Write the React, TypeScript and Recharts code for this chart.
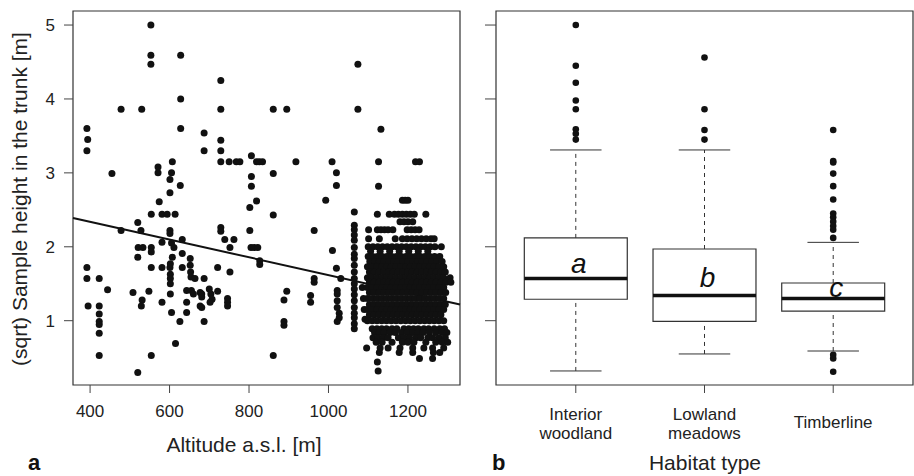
import { ReferenceArea, ReferenceLine, Scatter, ScatterChart, XAxis, YAxis } from "recharts";

const FONT = '"Liberation Sans", Arial, Helvetica, sans-serif';

// panel a: altitude [m] vs sqrt sample height [m], scattered samples
const spreadSamples: [number, number][] = [
  [392, 3.6], [394, 3.45], [392, 3.3], [392, 1.72], [392, 1.57], [395, 1.2],
  [423, 1.57], [423, 1.2], [423, 1.09], [423, 0.99], [423, 0.95], [423, 0.83], [423, 0.53],
  [444, 1.42], [455, 2.99], [478, 3.86], [478, 2.22],
  [508, 1.38], [520, 2.33], [528, 2.22], [521, 1.99], [533, 1.99], [520, 1.86], [520, 0.3],
  [530, 3.86], [531, 1.28], [529, 1.2], [548, 1.4],
  [553, 5.0], [553, 4.59], [553, 4.47], [554, 2.44], [554, 1.99], [554, 1.93], [554, 1.72], [554, 0.53],
  [571, 3.08], [571, 3.0], [574, 2.61], [581, 2.44], [594, 2.44], [581, 2.06], [581, 1.72], [581, 1.25],
  [601, 2.91], [605, 3.0], [601, 2.73], [607, 3.15], [614, 2.44], [601, 2.22], [601, 2.18], [605, 2.05],
  [611, 1.99], [607, 1.86], [601, 1.72], [602, 1.77], [602, 1.63], [602, 1.57], [602, 1.5], [602, 1.36],
  [605, 1.11], [615, 0.69],
  [627, 2.83], [628, 4.59], [628, 4.0], [628, 3.6], [632, 2.1], [632, 1.91], [632, 1.72], [626, 0.99],
  [652, 1.84], [652, 1.75], [653, 1.66], [654, 1.59], [664, 1.57], [643, 1.41], [643, 1.25], [643, 1.11],
  [655, 1.41], [660, 1.36], [677, 1.38], [677, 1.2],
  [687, 3.54], [687, 3.3], [687, 1.57], [687, 0.99], [681, 1.36], [681, 1.32], [681, 1.18],
  [700, 1.43], [704, 1.36], [707, 1.29], [702, 1.25], [721, 1.72], [721, 1.4],
  [729, 4.25], [729, 3.86], [729, 3.44], [729, 3.3], [729, 3.15], [729, 2.26], [729, 2.21],
  [739, 2.1], [762, 2.1], [752, 1.99], [752, 1.66], [746, 1.3], [746, 1.25], [746, 1.2],
  [750, 3.15], [768, 3.15], [777, 3.15],
  [806, 3.23], [806, 2.95], [806, 2.82], [819, 2.62], [802, 2.53], [802, 2.22], [805, 1.99], [813, 1.99],
  [822, 1.99], [827, 1.81], [827, 1.76], [819, 3.15], [826, 3.15], [834, 3.15],
  [861, 3.86], [861, 2.99], [861, 2.43], [861, 0.53],
  [895, 3.86], [895, 1.4], [888, 1.28], [888, 0.99], [888, 0.94],
  [918, 3.15], [955, 1.34], [955, 1.25], [964, 2.22], [964, 1.57], [964, 1.52],
  [993, 2.63], [1009, 3.15], [1010, 1.95],
  [1020, 3.0], [1020, 2.83], [1020, 1.71], [1022, 1.41], [1022, 1.36], [1022, 1.27], [1022, 1.18],
  [1027, 1.1], [1027, 1.04], [1022, 0.99], [1031, 1.57],
  [1074, 4.47], [1074, 3.86], [1132, 3.59], [1126, 3.15], [1219, 3.15], [1229, 3.15], [1126, 2.82],
  [1085, 1.45], [1088, 1.3], [1090, 1.15], [1092, 1.02],
];

// the transect column at ~1065 m
const columnAltitude = 1065;
const columnHeights = [2.47, 2.29, 2.23, 2.16, 2.09, 1.99, 1.9, 1.84, 1.75, 1.66, 1.57, 1.5, 1.43, 1.35, 1.27, 1.18, 1.1, 1.04, 0.96, 0.89];

// dense timberline cluster, one row per height level
const clusterRows: [number, number[]][] = [
  [2.63, [1186, 1193, 1200]],
  [2.44, [1123, 1153, 1166, 1176, 1186, 1196, 1206, 1216, 1245]],
  [2.34, [1180, 1190, 1200, 1212]],
  [2.23, [1101, 1123, 1132, 1141, 1150, 1162, 1198, 1208, 1218, 1228]],
  [2.11, [1101, 1128, 1168, 1186, 1198, 1210, 1222, 1234, 1246, 1258, 1266]],
  [2.0, [1100, 1112, 1124, 1136, 1148, 1160, 1172, 1184, 1196, 1208, 1220, 1232, 1244, 1256, 1268, 1284]],
  [1.94, [1106, 1130, 1154, 1178, 1202, 1226, 1250]],
  [1.87, [1100, 1111, 1123, 1135, 1147, 1159, 1171, 1183, 1195, 1207, 1219, 1231, 1243, 1255, 1267, 1280]],
  [1.8, [1104, 1116, 1128, 1140, 1152, 1164, 1176, 1188, 1200, 1212, 1224, 1236, 1248, 1260, 1272, 1286]],
  [1.73, [1098, 1110, 1122, 1134, 1146, 1158, 1170, 1182, 1194, 1206, 1218, 1230, 1242, 1254, 1266, 1278, 1290]],
  [1.66, [1103, 1115, 1127, 1139, 1151, 1163, 1175, 1187, 1199, 1211, 1223, 1235, 1247, 1259, 1271, 1283, 1294]],
  [1.58, [1098, 1110, 1122, 1134, 1146, 1158, 1170, 1182, 1194, 1206, 1218, 1230, 1242, 1254, 1266, 1278, 1290, 1306]],
  [1.52, [1103, 1115, 1127, 1139, 1151, 1163, 1175, 1187, 1199, 1211, 1223, 1235, 1247, 1259, 1271, 1283, 1296, 1308]],
  [1.45, [1098, 1110, 1122, 1134, 1146, 1158, 1170, 1182, 1194, 1206, 1218, 1230, 1242, 1254, 1266, 1278, 1290]],
  [1.38, [1103, 1115, 1127, 1139, 1151, 1163, 1175, 1187, 1199, 1211, 1223, 1235, 1247, 1259, 1271, 1283, 1295]],
  [1.3, [1098, 1110, 1122, 1134, 1146, 1158, 1170, 1182, 1194, 1206, 1218, 1230, 1242, 1254, 1266, 1278, 1290]],
  [1.22, [1103, 1115, 1127, 1139, 1151, 1163, 1175, 1187, 1199, 1211, 1223, 1235, 1247, 1259, 1271, 1283, 1294]],
  [1.15, [1098, 1110, 1122, 1134, 1146, 1158, 1170, 1182, 1194, 1206, 1218, 1230, 1242, 1254, 1266, 1278, 1290]],
  [1.08, [1103, 1115, 1127, 1139, 1151, 1163, 1175, 1187, 1199, 1211, 1223, 1235, 1247, 1259, 1271, 1283]],
  [1.0, [1098, 1110, 1122, 1134, 1146, 1158, 1170, 1182, 1194, 1206, 1218, 1230, 1242, 1254, 1266, 1278, 1290]],
  [0.89, [1110, 1122, 1134, 1146, 1160, 1172, 1190, 1202, 1214, 1226, 1240, 1252, 1266, 1280, 1292]],
  [0.84, [1116, 1128, 1140, 1155, 1168, 1184, 1198, 1212, 1225, 1238, 1254, 1270, 1286, 1298]],
  [0.77, [1112, 1125, 1138, 1150, 1176, 1190, 1204, 1220, 1232, 1250, 1262, 1278, 1294]],
  [0.71, [1120, 1135, 1160, 1186, 1200, 1215, 1245, 1270, 1286, 1300]],
  [0.63, [1096, 1130, 1150, 1180, 1212, 1240, 1262, 1290]],
  [0.57, [1128, 1178, 1212, 1264, 1280]],
  [0.49, [1229, 1262]],
  [0.44, [1123]],
  [0.32, [1125]],
];

const fitAltitude = [357, 1331];
const fitHeight = [2.39, 1.22];
const altitudeTicks = [400, 600, 800, 1000, 1200];
const heightTicks = [1, 2, 3, 4, 5];

// panel b: habitat boxplots
const habitats = [["Interior", "woodland"], ["Lowland", "meadows"], ["Timberline"]];
const groupLetters = ["a", "b", "c"];
const letterHeights = [1.64, 1.45, 1.32];
const whiskerLow = [0.32, 0.55, 0.59];
const lowerQuartile = [1.29, 0.99, 1.13];
const medianHeight = [1.57, 1.34, 1.3];
const upperQuartile = [2.12, 1.97, 1.51];
const whiskerHigh = [3.31, 3.31, 2.06];
const outliers = [
  [5.0, 4.45, 4.22, 3.98, 3.86, 3.59, 3.53, 3.45],
  [4.56, 3.86, 3.58, 3.45],
  [3.58, 3.16, 3.14, 2.99, 2.82, 2.64, 2.45, 2.4, 2.34, 2.28, 2.23, 2.12, 0.54, 0.49, 0.31],
];

const scatterPoints = [
  ...spreadSamples.map(([altitude, height]) => ({ altitude, height })),
  ...columnHeights.map((height) => ({ altitude: columnAltitude, height })),
  ...clusterRows.flatMap(([height, alts]) => alts.map((altitude) => ({ altitude, height }))),
];
const outlierPoints = outliers.flatMap((values, i) => values.map((height) => ({ position: i + 1, height })));
const letterPoints = groupLetters.map((letter, i) => ({ position: i + 1, height: letterHeights[i], letter }));

const yDomain: [number, number] = [0.13, 5.19];
const xDomain: [number, number] = [357, 1331];
const boxDomain: [number, number] = [0.38, 3.62];

const tickStyle = { fill: "#222", fontSize: 17, fontFamily: FONT };

const HabitatTick = (props: any) => {
  const lines = habitats[Math.round(props.payload.value) - 1] ?? [];
  const offsets = lines.length === 1 ? [35] : [27, 46];
  return (
    <text x={props.x} y={props.y} textAnchor="middle" fill="#222" fontSize={17} fontFamily={FONT}>
      {lines.map((line, i) => (
        <tspan key={line} x={props.x} y={props.y + offsets[i]}>{line}</tspan>
      ))}
    </text>
  );
};

export default function App() {
  return (
    <div style={{ position: "absolute", left: 0, top: 0, width: 914, height: 476, background: "#fff", fontFamily: FONT }}>
      <div style={{ position: "absolute", left: 0, top: 0 }}>
        <ScatterChart width={462} height={476} margin={{ top: 11, right: 2, bottom: 0, left: 0 }}>
          <XAxis type="number" dataKey="altitude" domain={xDomain} ticks={altitudeTicks} allowDataOverflow
            height={91} axisLine={false} tickSize={8} tickMargin={12} tickLine={{ stroke: "#444" }} tick={tickStyle} />
          <YAxis type="number" dataKey="height" domain={yDomain} ticks={heightTicks} allowDataOverflow
            width={73} axisLine={false} tickSize={9} tickMargin={9} tickLine={{ stroke: "#444" }} tick={tickStyle} />
          <ReferenceArea x1={xDomain[0]} x2={xDomain[1]} y1={yDomain[0]} y2={yDomain[1]} fill="none" stroke="#333" strokeWidth={1.2} ifOverflow="visible" />
          <Scatter data={scatterPoints} isAnimationActive={false}
            shape={(p: any) => <circle cx={p.cx} cy={p.cy} r={3.5} fill="#111" />} />
          <ReferenceLine segment={[{ x: fitAltitude[0], y: fitHeight[0] }, { x: fitAltitude[1], y: fitHeight[1] }]}
            stroke="#111" strokeWidth={2} ifOverflow="visible" />
        </ScatterChart>
      </div>
      <div style={{ position: "absolute", left: 462, top: 0 }}>
        <ScatterChart width={452} height={476} margin={{ top: 11, right: 1, bottom: 0, left: 0 }}>
          <XAxis type="number" dataKey="position" domain={boxDomain} ticks={[1, 2, 3]} allowDataOverflow
            height={91} axisLine={false} tickSize={8} tickMargin={0} tickLine={{ stroke: "#444" }} tick={<HabitatTick />} />
          <YAxis type="number" dataKey="height" domain={yDomain} ticks={heightTicks} allowDataOverflow
            width={34} axisLine={false} tickSize={11} tickLine={{ stroke: "#444" }} tickFormatter={() => ""} />
          <ReferenceArea x1={boxDomain[0]} x2={boxDomain[1]} y1={yDomain[0]} y2={yDomain[1]} fill="none" stroke="#333" strokeWidth={1.2} ifOverflow="visible" />
          {habitats.map((_, i) => {
            const x = i + 1;
            return [
              <ReferenceLine key={`wu${i}`} segment={[{ x, y: upperQuartile[i] }, { x, y: whiskerHigh[i] }]} stroke="#333" strokeDasharray="4 4" />,
              <ReferenceLine key={`wl${i}`} segment={[{ x, y: whiskerLow[i] }, { x, y: lowerQuartile[i] }]} stroke="#333" strokeDasharray="4 4" />,
              <ReferenceLine key={`cu${i}`} segment={[{ x: x - 0.2, y: whiskerHigh[i] }, { x: x + 0.2, y: whiskerHigh[i] }]} stroke="#333" />,
              <ReferenceLine key={`cl${i}`} segment={[{ x: x - 0.2, y: whiskerLow[i] }, { x: x + 0.2, y: whiskerLow[i] }]} stroke="#333" />,
              <ReferenceArea key={`bx${i}`} x1={x - 0.4} x2={x + 0.4} y1={lowerQuartile[i]} y2={upperQuartile[i]} fill="none" stroke="#333" strokeWidth={1.2} />,
              <ReferenceLine key={`md${i}`} segment={[{ x: x - 0.4, y: medianHeight[i] }, { x: x + 0.4, y: medianHeight[i] }]} stroke="#111" strokeWidth={3.5} />,
            ];
          })}
          <Scatter data={outlierPoints} isAnimationActive={false}
            shape={(p: any) => <circle cx={p.cx} cy={p.cy} r={3.3} fill="#111" />} />
          <Scatter data={letterPoints} isAnimationActive={false}
            shape={(p: any) => (
              <text x={p.cx + 3} y={p.cy} textAnchor="middle" fontStyle="italic" fontSize={28} fontFamily={FONT} fill="#111">
                {p.payload?.letter}
              </text>
            )} />
        </ScatterChart>
      </div>
      <svg width={914} height={476} style={{ position: "absolute", left: 0, top: 0, pointerEvents: "none" }}>
        <text transform="translate(27,199) rotate(-90)" textAnchor="middle" fontSize={21} fontFamily={FONT} fill="#222">
          (sqrt) Sample height in the trunk [m]
        </text>
        <text x={244} y={452} textAnchor="middle" fontSize={21} fontFamily={FONT} fill="#222">Altitude a.s.l. [m]</text>
        <text x={28} y={470} fontSize={22} fontWeight="bold" fontFamily={FONT} fill="#111">a</text>
        <text x={492} y={470} fontSize={22} fontWeight="bold" fontFamily={FONT} fill="#111">b</text>
        <text x={705} y={470} textAnchor="middle" fontSize={21} fontFamily={FONT} fill="#222">Habitat type</text>
      </svg>
    </div>
  );
}
